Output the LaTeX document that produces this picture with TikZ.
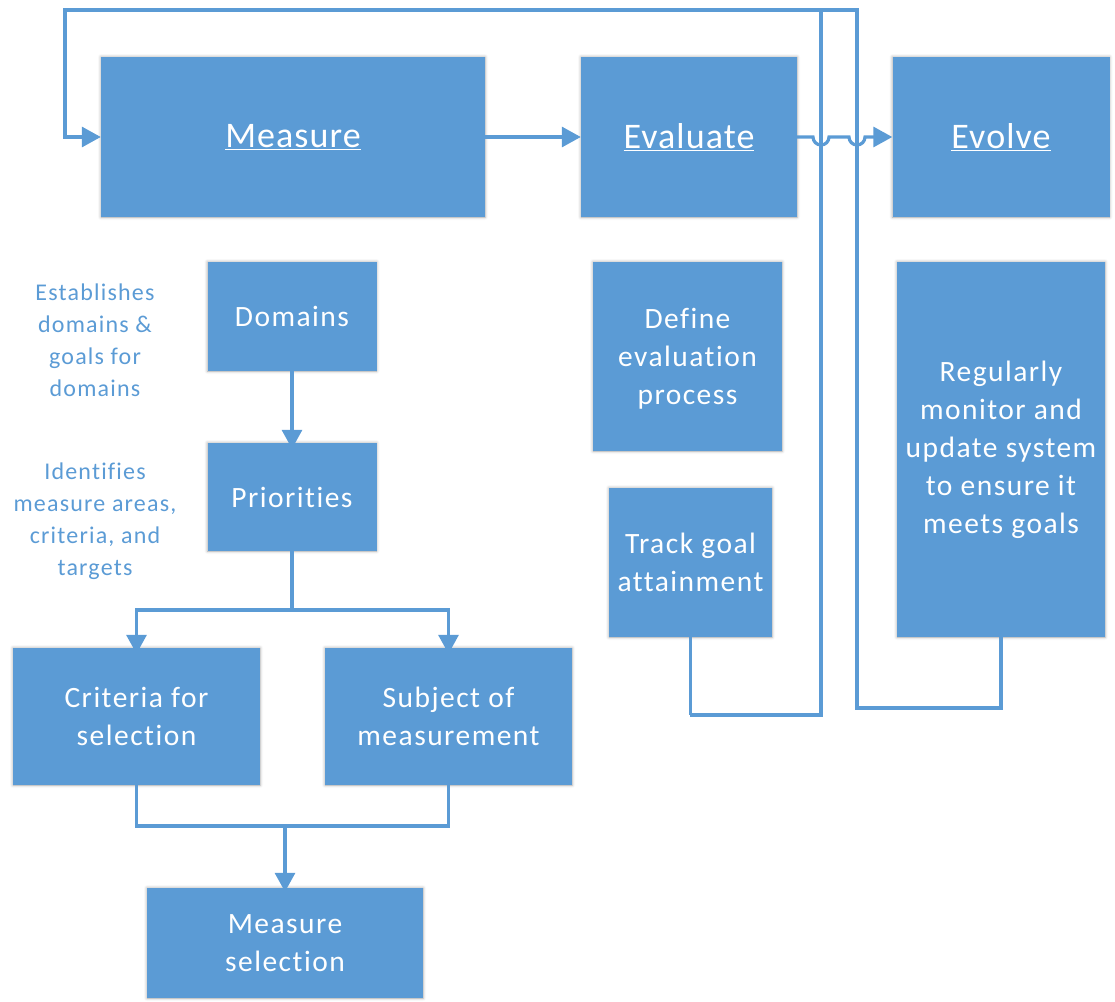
\documentclass[tikz,border=0pt]{standalone}
\usepackage{fontspec}
\setmainfont{Carlito}
\newfontfamily\spacedfont[LetterSpace=5,Ligatures=NoCommon]{Carlito}
\newfontfamily\titlefont[LetterSpace=3,Ligatures=NoCommon]{Carlito}
\usetikzlibrary{arrows.meta,shadows.blur}
\definecolor{boxblue}{HTML}{5B9BD5}
\begin{document}
\begin{tikzpicture}[x=1pt,y=-1pt,
  box/.style={fill=boxblue, draw=none, text=white, align=center, inner sep=0pt,
    blur shadow={shadow xshift=0pt, shadow yshift=0pt, shadow blur radius=3pt, shadow opacity=35}},
  boxtext/.style={font=\spacedfont\fontsize{29.5}{38}\selectfont},
  titletext/.style={font=\titlefont\fontsize{36}{40}\selectfont},
  note/.style={text=boxblue, align=center, font=\spacedfont\fontsize{24}{32}\selectfont},
  conn/.style={draw=boxblue, line width=3.2pt},
  arr/.style={conn, -{Triangle[length=19pt,width=20pt]}}
]
\useasboundingbox (0,0) rectangle (1115,1001);
% boxes
\node[box,titletext,minimum width=384pt,minimum height=160pt] (measure) at (293,137) {\underline{Measure}};
\node[box,titletext,minimum width=216pt,minimum height=160pt] (evaluate) at (689,137) {\underline{Evaluate}};
\node[box,titletext,minimum width=217pt,minimum height=160pt] (evolve) at (1001,137) {\underline{Evolve}};
\node[box,boxtext,minimum width=169pt,minimum height=109pt] (domains) at (292,316.5) {Domains};
\node[box,boxtext,minimum width=169pt,minimum height=108pt] (priorities) at (292,497) {Priorities};
\node[box,boxtext,minimum width=247pt,minimum height=137pt] (criteria) at (136.5,716.5) {Criteria for\\selection};
\node[box,boxtext,minimum width=247pt,minimum height=137pt] (subject) at (448.5,716.5) {Subject of\\measurement};
\node[box,boxtext,minimum width=276pt,minimum height=110pt] (msel) at (285,943) {Measure\\selection};
\node[box,boxtext,minimum width=189pt,minimum height=189pt,inner ysep=0pt,text depth=0pt] (define) at (687.5,356.5) {Define\\evaluation\\process};
\node[box,boxtext,minimum width=163pt,minimum height=149pt] (track) at (690.5,562.5) {Track goal\\attainment};
\node[box,boxtext,minimum width=208pt,minimum height=375pt] (regular) at (1001,449.5) {Regularly\\monitor and\\update system\\to ensure it\\meets goals};
% notes
\node[note] (note1) at (95,340) {Establishes\\domains \&\\goals for\\domains};
\node[note] (note2) at (95,521) {Identifies\\measure areas,\\criteria, and\\targets};
% coordinates
\coordinate (topL) at (65,10);
\coordinate (topA) at (821,10);
\coordinate (topB) at (857,10);
\coordinate (trackB) at (690,715);
\coordinate (regB) at (1001,708);
\coordinate (split) at (292,610);
\coordinate (join) at (285,826);
% connectors
\draw[arr] (measure.east) -- (evaluate.west);
\draw[arr] ([yshift=6pt]domains.south) -- ([yshift=-6pt]priorities.north);
\draw[arr] ([yshift=6pt]priorities.south) -- (split) -| ([yshift=-6pt]criteria.north);
\draw[arr] (split) -| ([yshift=-6pt]subject.north);
\draw[conn] ([yshift=6pt]criteria.south) |- (join) -| ([yshift=6pt]subject.south);
\draw[arr] (join) -- ([yshift=-4pt]msel.north);
% feedback loops
\draw[arr] ([yshift=8pt]track.south) |- (trackB) -| (topA) -- (topL) |- (measure.west);
\draw[conn] ([yshift=8pt]regular.south) |- (regB) -| (topB) -- (topA);
% evaluate to evolve with hops
\draw[arr] (evaluate.east) -- (813,137) arc[start angle=180,end angle=360,radius=8pt]
  -- (849,137) arc[start angle=180,end angle=360,radius=8pt] -- (evolve.west);
\end{tikzpicture}
\end{document}
